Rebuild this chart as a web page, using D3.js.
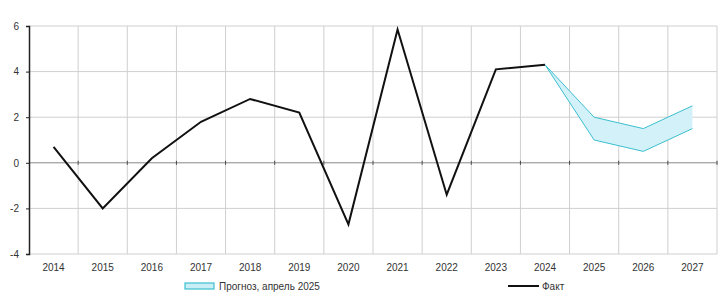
<!DOCTYPE html>
<html lang="ru">
<head>
<meta charset="UTF-8">
<title>Факт и прогноз</title>
<script src="https://d3js.org/d3.v7.min.js"></script>
<style>
    body { margin: 0; background: #fff; }
    text { font-family: 'Liberation Sans', Arial, sans-serif; font-size: 10px; fill: #333; }
</style>
</head>
<body>
<script>
    const years = ['2014','2015','2016','2017','2018','2019','2020','2021','2022','2023','2024','2025','2026','2027'];
    const factYears = ['2014','2015','2016','2017','2018','2019','2020','2021','2022','2023','2024'];
    const factValues = [0.7, -2.0, 0.2, 1.8, 2.8, 2.2, -2.7, 5.85, -1.4, 4.1, 4.3];
    const bandYears = ['2024','2025','2026','2027'];
    const bandLow = [4.3, 1.0, 0.5, 1.5];
    const bandHigh = [4.3, 2.0, 1.5, 2.5];
    const yTicks = [-4, -2, 0, 2, 4, 6];

    const width = 728, height = 300;
    const plotLeft = 29, plotRight = 717, plotTop = 26, plotBottom = 254;

    const svg = d3.select('body').append('svg').attr('width', width).attr('height', height);

    const x = d3.scaleBand().domain(years).range([plotLeft, plotRight]);
    const y = d3.scaleLinear().domain([-4, 6]).range([plotBottom, plotTop]);
    const cx = d => x(d) + x.bandwidth() / 2;

    // grid
    svg.append('g').selectAll('line')
        .data(yTicks)
        .enter().append('line')
        .attr('x1', plotLeft).attr('x2', plotRight)
        .attr('y1', d => y(d)).attr('y2', d => y(d))
        .attr('stroke', d => d === 0 ? '#888' : '#cfcfcf')
        .attr('stroke-width', 1);

    svg.append('g').selectAll('line')
        .data(years.map(d => x(d) + x.bandwidth()))
        .enter().append('line')
        .attr('x1', d => d).attr('x2', d => d)
        .attr('y1', plotTop).attr('y2', plotBottom)
        .attr('stroke', '#cfcfcf');

    // ticks on zero line
    svg.append('g').selectAll('line')
        .data(years.map(d => x(d) + x.bandwidth()))
        .enter().append('line')
        .attr('x1', d => d).attr('x2', d => d)
        .attr('y1', y(0) - 2).attr('y2', y(0) + 2)
        .attr('stroke', '#444');

    // left axis
    const yAxis = svg.append('g').attr('transform', `translate(${plotLeft},0)`)
        .call(d3.axisLeft(y).tickValues(yTicks).tickSize(3).tickFormat(d => String(d)));
    yAxis.select('.domain').attr('stroke', '#222').attr('stroke-width', 1.5);
    yAxis.selectAll('.tick line').attr('stroke', '#222');
    yAxis.selectAll('text').attr('x', -10).style('font-size', '10px').attr('fill', '#333');

    // x labels
    svg.append('g').selectAll('text')
        .data(years)
        .enter().append('text')
        .attr('x', cx).attr('y', plotBottom + 17)
        .attr('text-anchor', 'middle')
        .text(d => d);

    // band
    const band = bandYears.map((d, i) => ({year: d, lo: bandLow[i], hi: bandHigh[i]}));
    svg.append('path')
        .datum(band)
        .attr('d', d3.area().x(d => cx(d.year)).y0(d => y(d.lo)).y1(d => y(d.hi)))
        .attr('fill', '#d3f1f9')
        .attr('stroke', 'none');
    svg.append('path')
        .datum(band)
        .attr('d', d3.line().x(d => cx(d.year)).y(d => y(d.hi)))
        .attr('fill', 'none').attr('stroke', '#3cbfcf').attr('stroke-width', 1);
    svg.append('path')
        .datum(band)
        .attr('d', d3.line().x(d => cx(d.year)).y(d => y(d.lo)))
        .attr('fill', 'none').attr('stroke', '#3cbfcf').attr('stroke-width', 1);

    // fact line
    svg.append('path')
        .datum(factYears.map((d, i) => [d, factValues[i]]))
        .attr('d', d3.line().x(d => cx(d[0])).y(d => y(d[1])))
        .attr('fill', 'none').attr('stroke', '#111').attr('stroke-width', 2);

    // legend
    const lg = svg.append('g');
    lg.append('rect').attr('x', 185).attr('y', 283).attr('width', 29).attr('height', 6)
        .attr('fill', '#c9eef6').attr('stroke', '#3cbfcf').attr('stroke-width', 1.2);
    lg.append('text').attr('x', 219).attr('y', 290).text('Прогноз, апрель 2025');
    lg.append('line').attr('x1', 508).attr('x2', 539).attr('y1', 286).attr('y2', 286)
        .attr('stroke', '#111').attr('stroke-width', 2);
    lg.append('text').attr('x', 542).attr('y', 290).text('Факт');
</script>
</body>
</html>
